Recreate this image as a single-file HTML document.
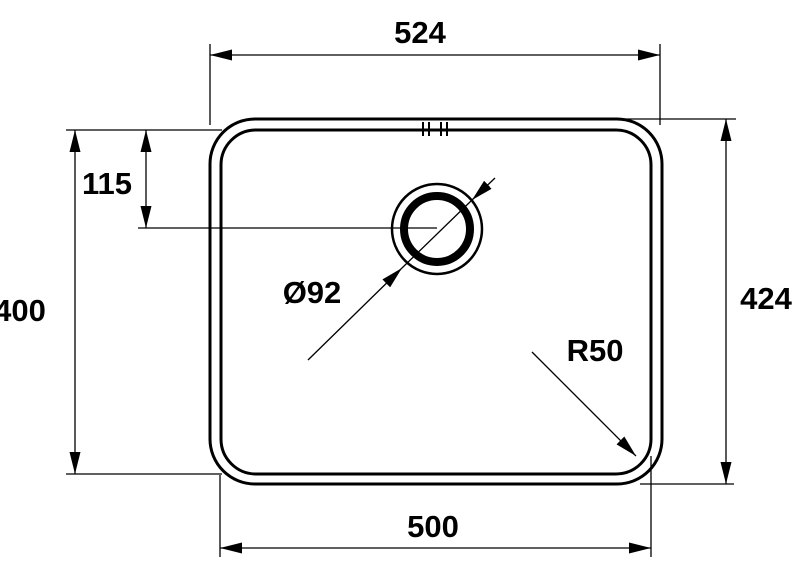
<!DOCTYPE html>
<html><head><style>body{margin:0;background:#fff}svg{display:block}</style></head><body>
<svg width="792" height="576" viewBox="0 0 792 576" xmlns="http://www.w3.org/2000/svg">
<defs>
<marker id="a" viewBox="0 0 22 11" refX="22" refY="5.5" markerWidth="22" markerHeight="11" markerUnits="userSpaceOnUse" orient="auto-start-reverse"><path d="M0,0L22,5.5L0,11z" fill="#000"/></marker>
</defs>
<g fill="none" stroke="#000">
<rect x="210" y="119" width="452" height="365" rx="45" stroke-width="3"/>
<rect x="221" y="130" width="430" height="344" rx="35" stroke-width="3"/>
<g stroke-width="1.3">
<line x1="210" y1="44" x2="210" y2="125"/><line x1="660" y1="44" x2="660" y2="125"/>
<line x1="210" y1="55" x2="660" y2="55" marker-start="url(#a)" marker-end="url(#a)"/>
<line x1="220" y1="475" x2="220" y2="557"/><line x1="651" y1="456" x2="651" y2="557"/>
<line x1="220" y1="548" x2="651" y2="548" marker-start="url(#a)" marker-end="url(#a)"/>
<line x1="600" y1="119" x2="736" y2="119"/><line x1="640" y1="484" x2="734" y2="484"/>
<line x1="726" y1="119" x2="726" y2="484" marker-start="url(#a)" marker-end="url(#a)"/>
<line x1="66" y1="130" x2="222" y2="130"/><line x1="66" y1="474" x2="222" y2="474"/>
<line x1="75" y1="130" x2="75" y2="474" marker-start="url(#a)" marker-end="url(#a)"/>
<line x1="138" y1="228" x2="437" y2="228"/>
<line x1="146" y1="130" x2="146" y2="228" marker-start="url(#a)" marker-end="url(#a)"/>
<line x1="308" y1="360" x2="402" y2="268" marker-end="url(#a)"/>
<line x1="402" y1="268" x2="472" y2="200"/>
<line x1="495" y1="178" x2="472" y2="200" marker-end="url(#a)"/>
<line x1="532" y1="352" x2="636" y2="456" marker-end="url(#a)"/>
</g>
<circle cx="437" cy="229" r="45" stroke-width="2.5"/>
<circle cx="437" cy="229" r="33" stroke-width="8"/>
<g stroke-width="2"><line x1="423" y1="122" x2="423" y2="136"/><line x1="429" y1="122" x2="429" y2="136"/><line x1="441" y1="122" x2="441" y2="136"/><line x1="447" y1="122" x2="447" y2="136"/></g>
</g>
<g font-family="Liberation Sans, sans-serif" font-weight="bold" font-size="31" fill="#000" text-anchor="middle">
<text x="420" y="43">524</text>
<text x="107" y="194">115</text>
<text x="20" y="321">400</text>
<text x="312" y="303">Ø92</text>
<text x="766" y="309">424</text>
<text x="595" y="361">R50</text>
<text x="433" y="537">500</text>
</g>
</svg>
</body></html>
